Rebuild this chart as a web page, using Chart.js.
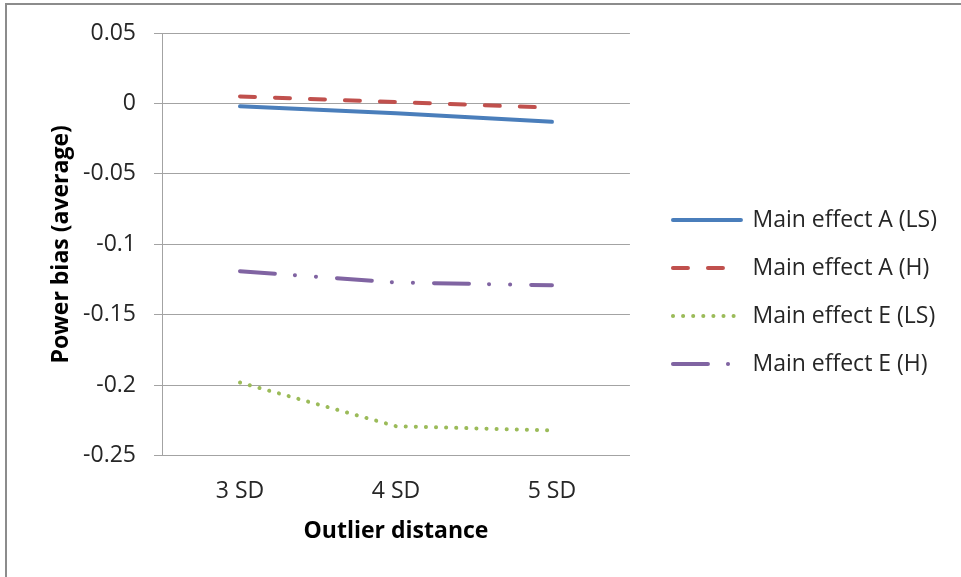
<!DOCTYPE html>
<html>
  <head>
    <title>Power bias vs outlier distance</title>
    <script src="https://cdn.jsdelivr.net/npm/chart.js"></script>
    <style>
      body { margin: 0; background: #fff; }
      #wrap { position: relative; width: 961px; height: 577px; overflow: hidden; }
      #frame { position: absolute; left: 5px; top: 3px; width: 1000px; height: 700px; border-left: 2px solid #8c8c8c; border-top: 2px solid #8c8c8c; pointer-events: none; }
    </style>
  </head>
  <body>
    <div id="wrap">
      <canvas id="grafico" width="961" height="577"></canvas>
      <div id="frame"></div>
    </div>

    <script>
      // data
      const categories = ['3 SD', '4 SD', '5 SD'];
      const mainEffectA_LS = [-0.002, -0.007, -0.013];
      const mainEffectA_H = [0.005, 0.001, -0.003];
      const mainEffectE_LS = [-0.198, -0.229, -0.232];
      const mainEffectE_H = [-0.119, -0.127, -0.129];
      const seriesNames = ['Main effect A (LS)', 'Main effect A (H)', 'Main effect E (LS)', 'Main effect E (H)'];

      const FONT = "'Open Sans', sans-serif";
      const TXT = '#262626';
      const GRID = '#a3a3a3';
      const LW = 4;

      const ctx = document.getElementById('grafico').getContext('2d');

      const lineBase = { borderWidth: LW, borderCapStyle: 'round', borderJoinStyle: 'round', pointRadius: 0, tension: 0, fill: false };

      new Chart(ctx, {
        type: 'line',
        data: {
          labels: categories,
          datasets: [
            { ...lineBase, label: seriesNames[0], data: mainEffectA_LS, borderColor: '#4a7ebb' },
            { ...lineBase, label: seriesNames[1], data: mainEffectA_H, borderColor: '#c0504d', borderDash: [15, 20] },
            { ...lineBase, label: seriesNames[2], data: mainEffectE_LS, borderColor: '#9bbb59', borderDash: [0.1, 10] },
            { ...lineBase, label: seriesNames[3], data: mainEffectE_H, borderColor: '#8064a2', borderDash: [35, 20, 0.1, 21, 0.1, 21] }
          ]
        },
        options: {
          responsive: false,
          animation: false,
          layout: { padding: { left: 40, top: 33, right: 14, bottom: 26 } },
          plugins: {
            tooltip: { enabled: false },
            legend: {
              position: 'right',
              maxWidth: 340,
              labels: {
                usePointStyle: true,
                pointStyle: 'line',
                pointStyleWidth: 68,
                padding: 25,
                color: TXT,
                font: { family: FONT, size: 23 },
                // point style items lose the dash, so copy it back from the dataset
                generateLabels: (chart) =>
                  Chart.defaults.plugins.legend.labels.generateLabels(chart).map((item) => {
                    const ds = chart.data.datasets[item.datasetIndex];
                    return { ...item, lineDash: ds.borderDash || [], lineCap: 'round', lineWidth: LW, strokeStyle: ds.borderColor };
                  })
              }
            }
          },
          scales: {
            x: {
              offset: true,
              grid: { display: false, drawTicks: false },
              border: { display: true, color: GRID, width: 1 },
              ticks: { padding: 22, color: TXT, font: { family: FONT, size: 23 } },
              // tick padding is counted twice in the axis height, so the title pulls up
              title: { display: true, text: 'Outlier distance', color: '#000', padding: { top: -10, bottom: 6 }, font: { family: FONT, size: 23, weight: 'bold' } }
            },
            y: {
              min: -0.25,
              max: 0.05,
              grid: { color: GRID, lineWidth: 1, tickLength: 8 },
              border: { display: true, color: GRID, width: 1 },
              ticks: {
                stepSize: 0.05,
                padding: 18,
                color: TXT,
                font: { family: FONT, size: 23 },
                callback: (v) => String(parseFloat(v.toFixed(2)))
              },
              title: { display: true, text: 'Power bias (average)', color: '#000', padding: { top: 8, bottom: 0 }, font: { family: FONT, size: 23, weight: 'bold' } },
              afterFit: (s) => { s.width = 122; }
            },
            // empty axis, only keeps the legend away from the plot
            gap: {
              type: 'linear',
              position: 'right',
              grid: { display: false },
              border: { display: false },
              ticks: { display: false },
              afterFit: (s) => { s.width = 18; }
            }
          }
        }
      });
    </script>
  </body>
</html>
